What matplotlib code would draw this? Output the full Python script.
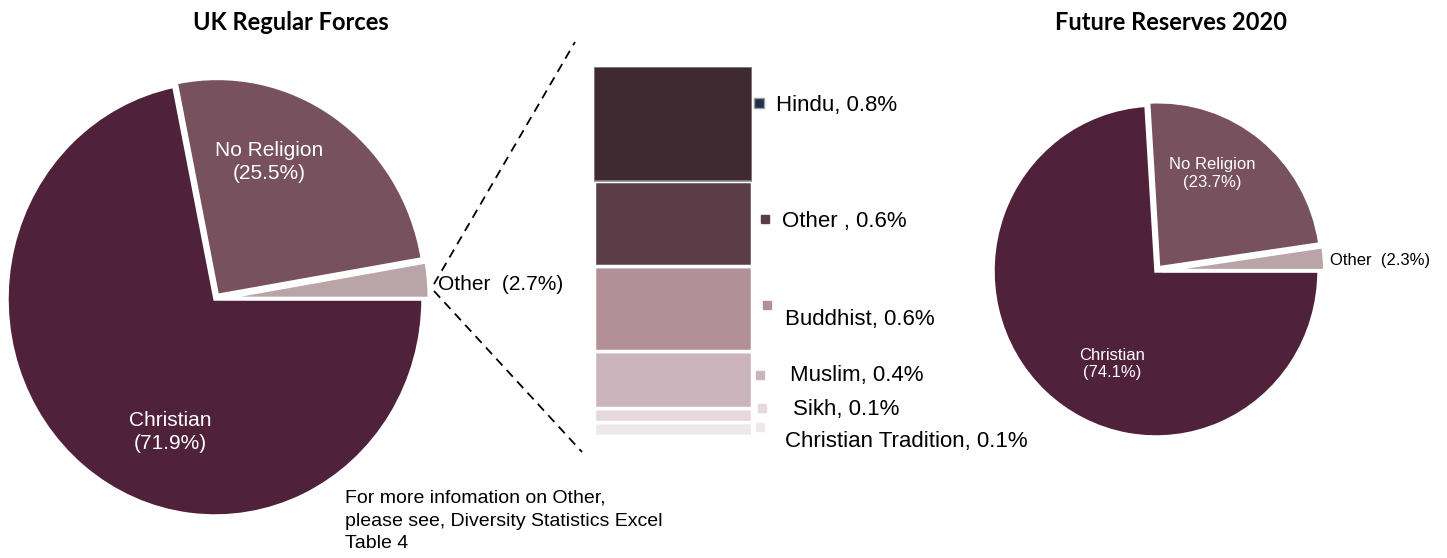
import matplotlib.pyplot as plt

# === DADOS ===
regular_labels = ['Christian', 'No Religion', 'Other']
regular_values = [71.9, 25.5, 2.7]

reserve_labels = ['Christian', 'No Religion', 'Other']
reserve_values = [74.1, 23.7, 2.3]

other_labels = ['Hindu', 'Other ', 'Buddhist', 'Muslim', 'Sikh', 'Christian Tradition']
other_values = [0.8, 0.6, 0.6, 0.4, 0.1, 0.1]

# === CORES ===
pie_colors = ['#4f213b', '#77515e', '#b9a4a8']
bar_colors = ['#3f2a31', '#5b3d47', '#b38f97', '#cbb4bb', '#e6d9dd', '#efe8ea']
marker_colors = ['#1f2f4a', '#5b3d47', '#b38f97', '#cbb4bb', '#e6d9dd', '#efe8ea']

plt.rcParams['font.family'] = ['Liberation Sans', 'DejaVu Sans']

W, H = 1447, 558
fig = plt.figure(figsize=(W / 100, H / 100), dpi=100)
PAD = 1.12


def pie_axes(cx, cy, rx, ry):
    # caixa em pixels; a pizza sai levemente oval como no original
    return fig.add_axes([(cx - rx * PAD) / W, 1 - (cy + ry * PAD) / H,
                         2 * rx * PAD / W, 2 * ry * PAD / H])


def draw_pie(ax, values, explode):
    ax.pie(values, colors=pie_colors, startangle=0, counterclock=False,
           explode=explode, wedgeprops=dict(edgecolor='white', linewidth=2.5))
    ax.set_aspect('auto')
    ax.set_xlim(-PAD, PAD)
    ax.set_ylim(-PAD, PAD)
    ax.axis('off')


ax1 = pie_axes(215, 299, 208, 217)
draw_pie(ax1, regular_values, (0, 0.02, 0.03))

ax2 = pie_axes(1156, 271, 163, 166)
draw_pie(ax2, reserve_values, (0, 0.025, 0.035))

# === BARRA EMPILHADA: detalhamento de Other ===
axb = fig.add_axes([594 / W, 1 - 436 / H, 158 / W, (436 - 67) / H])
bottom = 0
for lab, val, cor in reversed(list(zip(other_labels, other_values, bar_colors))):
    borda = '#8a8a8a' if lab == 'Hindu' else 'white'
    lw = 1.2 if lab == 'Hindu' else 2.5
    axb.bar(0, val, bottom=bottom, width=1, color=cor, edgecolor=borda, linewidth=lw)
    bottom += val
axb.set_xlim(-0.5, 0.5)
axb.set_ylim(0, sum(other_values))
axb.axis('off')

# eixo de cima em pixels (y para baixo) para textos e linhas
base = fig.add_axes([0, 0, 1, 1], zorder=10)
base.patch.set_alpha(0)
base.set_xlim(0, W)
base.set_ylim(H, 0)
base.axis('off')

# === TEXTOS PIZZA 1: UK Regular Forces ===
base.text(291, 22, 'UK Regular Forces', ha='center', va='center',
          fontsize=17, fontweight='bold', family='Lato')
base.text(269, 162, f'{regular_labels[1]}\n({regular_values[1]}%)', ha='center', va='center',
          color='white', fontsize=15, linespacing=1.3)
base.text(170, 432, f'{regular_labels[0]}\n({regular_values[0]}%)', ha='center', va='center',
          color='white', fontsize=15, linespacing=1.3)
base.text(438, 285, f'{regular_labels[2]}  ({regular_values[2]}%)', ha='left', va='center',
          fontsize=15)

# linhas tracejadas ligando "Other" ao detalhamento
base.plot([434, 575], [284, 42], ls=(0, (5, 3.5)), color='black', lw=1.3)
base.plot([434, 582], [291, 452], ls=(0, (5, 3.5)), color='black', lw=1.3)

# legendas ao lado da barra
leg_text_pos = [(776, 105), (782, 221), (785, 319), (790, 375), (793, 409), (785, 442)]
leg_mark_pos = [(759, 103), (765, 219), (767, 305), (760, 375), (762, 408), (760, 427)]
for i, (lab, val) in enumerate(zip(other_labels, other_values)):
    mx, my = leg_mark_pos[i]
    tx, ty = leg_text_pos[i]
    ec = '#9a9a9a' if i == 0 else marker_colors[i]
    base.plot(mx, my, marker='s', ms=6.5 if i == 0 else 5.5, color=marker_colors[i],
              mec=ec, mew=1)
    base.text(tx, ty, f'{lab}, {val}%', ha='left', va='center', fontsize=16)

# nota de rodapé
base.text(345, 521, 'For more infomation on Other,\nplease see, Diversity Statistics Excel\nTable 4',
          ha='left', va='center', fontsize=14, linespacing=1.45)

# === TEXTOS PIZZA 2: Future Reserves 2020 ===
base.text(1171, 22, 'Future Reserves 2020', ha='center', va='center',
          fontsize=17, fontweight='bold', family='Lato')
base.text(1212, 174, f'{reserve_labels[1]}\n({reserve_values[1]}%)', ha='center', va='center',
          color='white', fontsize=12, linespacing=1.25)
base.text(1112, 364, f'{reserve_labels[0]}\n({reserve_values[0]}%)', ha='center', va='center',
          color='white', fontsize=12, linespacing=1.25)
base.text(1330, 260, f'{reserve_labels[2]}  ({reserve_values[2]}%)', ha='left', va='center',
          fontsize=12)

fig.savefig('out.png', dpi=100)
